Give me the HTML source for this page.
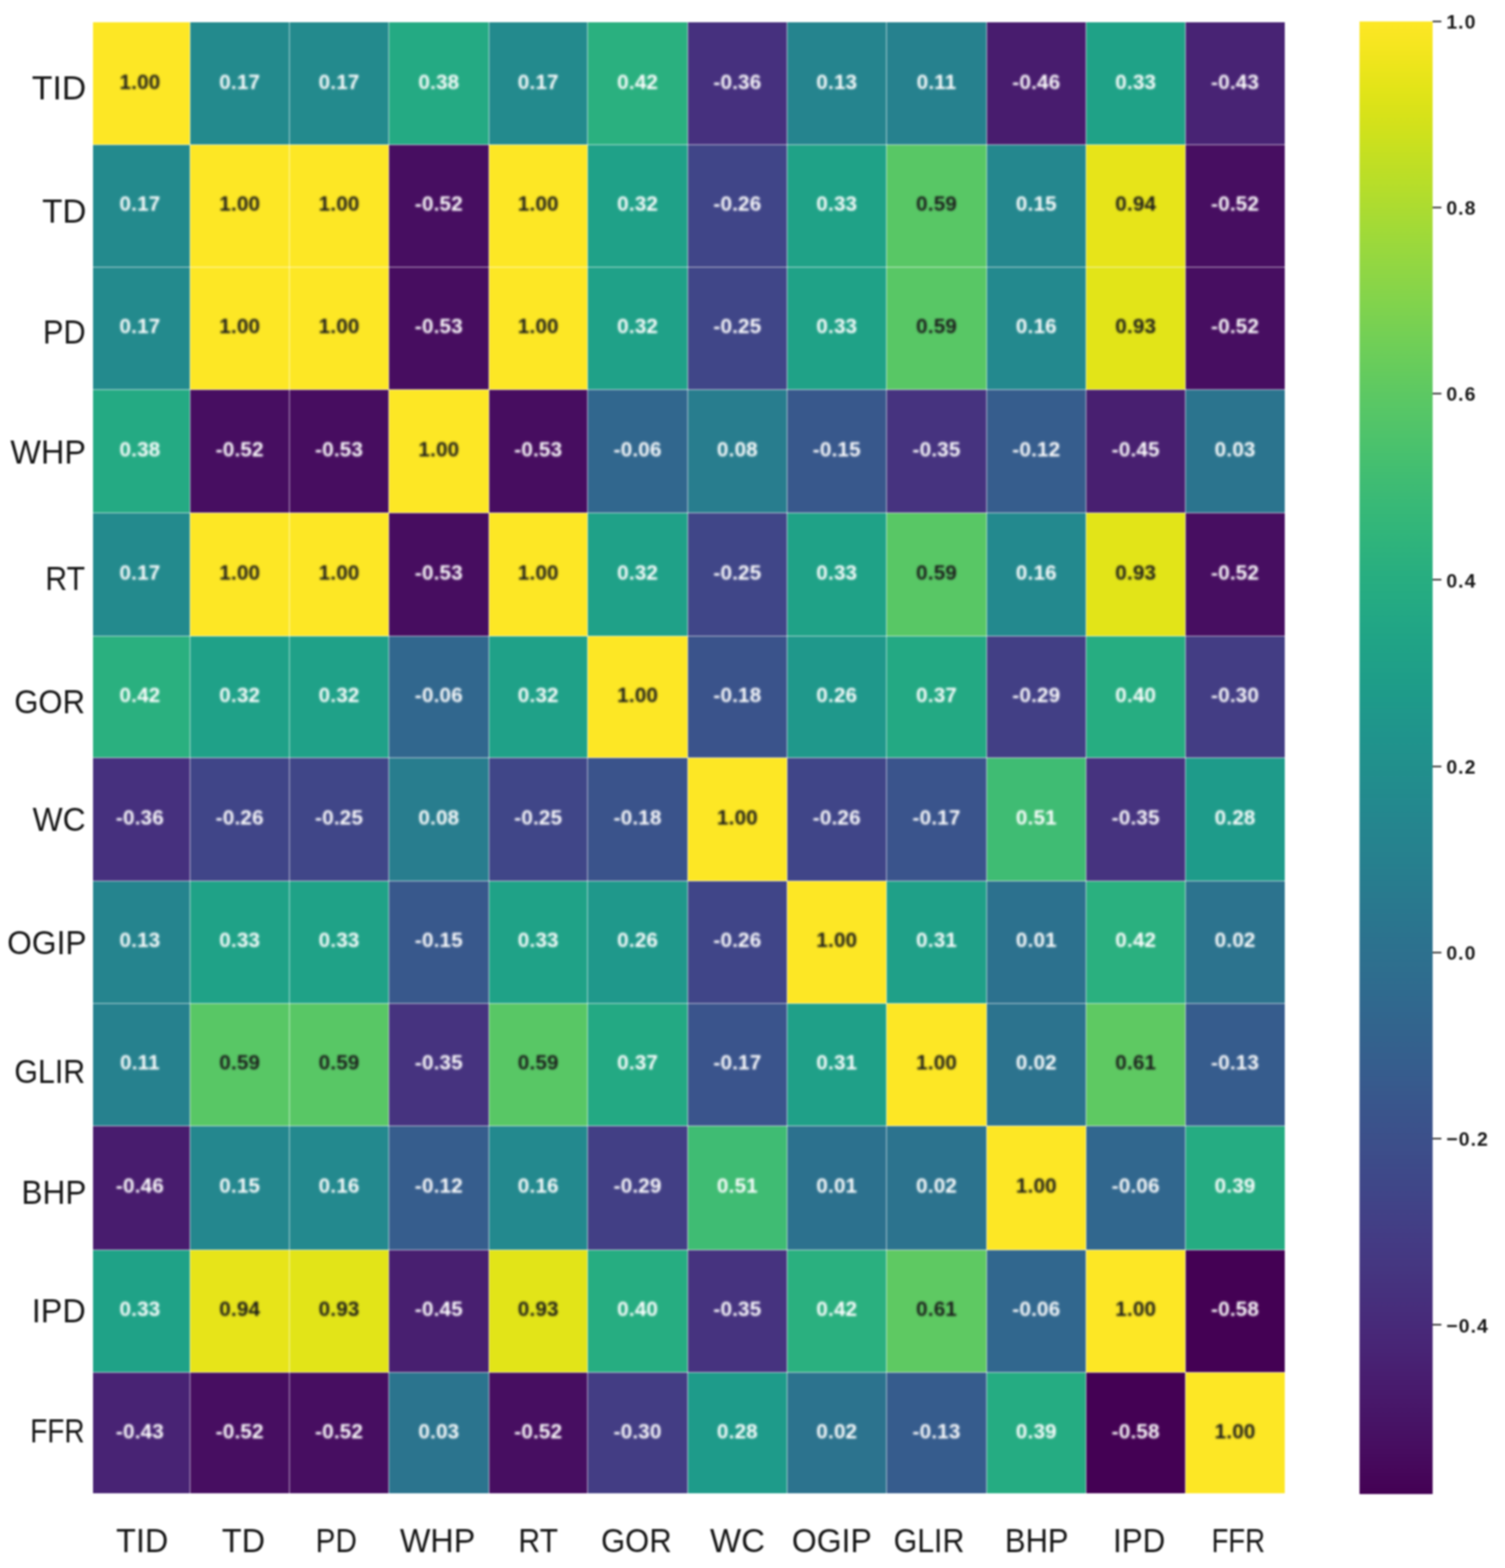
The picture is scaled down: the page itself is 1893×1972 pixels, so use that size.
<!DOCTYPE html>
<html lang="en"><head><meta charset="utf-8"><title>Correlation heatmap</title>
<style>
html,body{margin:0;padding:0;background:#fff;}
body{width:1893px;height:1972px;position:relative;font-family:"Liberation Sans",sans-serif;}
#fig{position:absolute;left:0;top:0;width:1893px;height:1972px;overflow:hidden;filter:blur(1px);}
.c{position:absolute;}
#ann{position:absolute;left:0;top:0;width:1893px;height:1972px;filter:blur(1px);}
.a{position:absolute;text-align:center;font-weight:bold;font-size:26px;line-height:26px;height:26px;letter-spacing:0.2px;white-space:nowrap;}
.d{color:#1a1a1a;} .w{color:#fff;}
.gl{position:absolute;background:rgba(255,255,255,.34);}
.lb{position:absolute;font-size:43.0px;line-height:1;color:#151515;white-space:nowrap;transform-origin:0 0;}
.cb{position:absolute;left:1710px;top:27px;width:92px;height:1851.5px;}
.tk{position:absolute;left:1802px;width:10.5px;height:2px;background:#333;}
.tl{position:absolute;left:1819.2px;font-size:24.5px;line-height:24.5px;height:24.5px;letter-spacing:1.3px;color:#161616;font-weight:bold;white-space:nowrap;}
</style></head>
<body>
<div id="fig">
<div id="heatmap">
<div class="c" style="left:117px;top:28px;width:122px;height:154px;background:rgb(253, 231, 37)"></div>
<div class="c" style="left:239px;top:28px;width:125px;height:154px;background:rgb(35, 138, 141)"></div>
<div class="c" style="left:364px;top:28px;width:125px;height:154px;background:rgb(35, 138, 141)"></div>
<div class="c" style="left:489px;top:28px;width:126px;height:154px;background:rgb(36, 170, 131)"></div>
<div class="c" style="left:615px;top:28px;width:124px;height:154px;background:rgb(35, 138, 141)"></div>
<div class="c" style="left:739px;top:28px;width:126px;height:154px;background:rgb(42, 176, 127)"></div>
<div class="c" style="left:865px;top:28px;width:125px;height:154px;background:rgb(70, 48, 126)"></div>
<div class="c" style="left:990px;top:28px;width:125px;height:154px;background:rgb(37, 132, 142)"></div>
<div class="c" style="left:1115px;top:28px;width:126px;height:154px;background:rgb(38, 129, 142)"></div>
<div class="c" style="left:1241px;top:28px;width:125px;height:154px;background:rgb(72, 28, 110)"></div>
<div class="c" style="left:1366px;top:28px;width:125px;height:154px;background:rgb(31, 162, 135)"></div>
<div class="c" style="left:1491px;top:28px;width:125px;height:154px;background:rgb(72, 35, 116)"></div>
<div class="c" style="left:117px;top:182px;width:122px;height:154px;background:rgb(35, 138, 141)"></div>
<div class="c" style="left:239px;top:182px;width:125px;height:154px;background:rgb(253, 231, 37)"></div>
<div class="c" style="left:364px;top:182px;width:125px;height:154px;background:rgb(253, 231, 37)"></div>
<div class="c" style="left:489px;top:182px;width:126px;height:154px;background:rgb(71, 14, 97)"></div>
<div class="c" style="left:615px;top:182px;width:124px;height:154px;background:rgb(253, 231, 37)"></div>
<div class="c" style="left:739px;top:182px;width:126px;height:154px;background:rgb(31, 161, 136)"></div>
<div class="c" style="left:865px;top:182px;width:125px;height:154px;background:rgb(64, 69, 136)"></div>
<div class="c" style="left:990px;top:182px;width:125px;height:154px;background:rgb(31, 162, 135)"></div>
<div class="c" style="left:1115px;top:182px;width:126px;height:154px;background:rgb(88, 199, 101)"></div>
<div class="c" style="left:1241px;top:182px;width:125px;height:154px;background:rgb(36, 135, 142)"></div>
<div class="c" style="left:1366px;top:182px;width:125px;height:154px;background:rgb(231, 228, 25)"></div>
<div class="c" style="left:1491px;top:182px;width:125px;height:154px;background:rgb(71, 14, 97)"></div>
<div class="c" style="left:117px;top:336px;width:122px;height:154px;background:rgb(35, 138, 141)"></div>
<div class="c" style="left:239px;top:336px;width:125px;height:154px;background:rgb(253, 231, 37)"></div>
<div class="c" style="left:364px;top:336px;width:125px;height:154px;background:rgb(253, 231, 37)"></div>
<div class="c" style="left:489px;top:336px;width:126px;height:154px;background:rgb(71, 13, 96)"></div>
<div class="c" style="left:615px;top:336px;width:124px;height:154px;background:rgb(253, 231, 37)"></div>
<div class="c" style="left:739px;top:336px;width:126px;height:154px;background:rgb(31, 161, 136)"></div>
<div class="c" style="left:865px;top:336px;width:125px;height:154px;background:rgb(64, 70, 136)"></div>
<div class="c" style="left:990px;top:336px;width:125px;height:154px;background:rgb(31, 162, 135)"></div>
<div class="c" style="left:1115px;top:336px;width:126px;height:154px;background:rgb(88, 199, 101)"></div>
<div class="c" style="left:1241px;top:336px;width:125px;height:154px;background:rgb(35, 137, 142)"></div>
<div class="c" style="left:1366px;top:336px;width:125px;height:154px;background:rgb(226, 228, 24)"></div>
<div class="c" style="left:1491px;top:336px;width:125px;height:154px;background:rgb(71, 14, 97)"></div>
<div class="c" style="left:117px;top:490px;width:122px;height:155px;background:rgb(36, 170, 131)"></div>
<div class="c" style="left:239px;top:490px;width:125px;height:155px;background:rgb(71, 14, 97)"></div>
<div class="c" style="left:364px;top:490px;width:125px;height:155px;background:rgb(71, 13, 96)"></div>
<div class="c" style="left:489px;top:490px;width:126px;height:155px;background:rgb(253, 231, 37)"></div>
<div class="c" style="left:615px;top:490px;width:124px;height:155px;background:rgb(71, 13, 96)"></div>
<div class="c" style="left:739px;top:490px;width:126px;height:155px;background:rgb(49, 103, 142)"></div>
<div class="c" style="left:865px;top:490px;width:125px;height:155px;background:rgb(40, 125, 142)"></div>
<div class="c" style="left:990px;top:490px;width:125px;height:155px;background:rgb(56, 88, 140)"></div>
<div class="c" style="left:1115px;top:490px;width:126px;height:155px;background:rgb(70, 51, 127)"></div>
<div class="c" style="left:1241px;top:490px;width:125px;height:155px;background:rgb(54, 93, 141)"></div>
<div class="c" style="left:1366px;top:490px;width:125px;height:155px;background:rgb(72, 31, 112)"></div>
<div class="c" style="left:1491px;top:490px;width:125px;height:155px;background:rgb(43, 116, 142)"></div>
<div class="c" style="left:117px;top:645px;width:122px;height:155px;background:rgb(35, 138, 141)"></div>
<div class="c" style="left:239px;top:645px;width:125px;height:155px;background:rgb(253, 231, 37)"></div>
<div class="c" style="left:364px;top:645px;width:125px;height:155px;background:rgb(253, 231, 37)"></div>
<div class="c" style="left:489px;top:645px;width:126px;height:155px;background:rgb(71, 13, 96)"></div>
<div class="c" style="left:615px;top:645px;width:124px;height:155px;background:rgb(253, 231, 37)"></div>
<div class="c" style="left:739px;top:645px;width:126px;height:155px;background:rgb(31, 161, 136)"></div>
<div class="c" style="left:865px;top:645px;width:125px;height:155px;background:rgb(64, 70, 136)"></div>
<div class="c" style="left:990px;top:645px;width:125px;height:155px;background:rgb(31, 162, 135)"></div>
<div class="c" style="left:1115px;top:645px;width:126px;height:155px;background:rgb(88, 199, 101)"></div>
<div class="c" style="left:1241px;top:645px;width:125px;height:155px;background:rgb(35, 137, 142)"></div>
<div class="c" style="left:1366px;top:645px;width:125px;height:155px;background:rgb(226, 228, 24)"></div>
<div class="c" style="left:1491px;top:645px;width:125px;height:155px;background:rgb(71, 14, 97)"></div>
<div class="c" style="left:117px;top:800px;width:122px;height:153px;background:rgb(42, 176, 127)"></div>
<div class="c" style="left:239px;top:800px;width:125px;height:153px;background:rgb(31, 161, 136)"></div>
<div class="c" style="left:364px;top:800px;width:125px;height:153px;background:rgb(31, 161, 136)"></div>
<div class="c" style="left:489px;top:800px;width:126px;height:153px;background:rgb(49, 103, 142)"></div>
<div class="c" style="left:615px;top:800px;width:124px;height:153px;background:rgb(31, 161, 136)"></div>
<div class="c" style="left:739px;top:800px;width:126px;height:153px;background:rgb(253, 231, 37)"></div>
<div class="c" style="left:865px;top:800px;width:125px;height:153px;background:rgb(58, 83, 139)"></div>
<div class="c" style="left:990px;top:800px;width:125px;height:153px;background:rgb(31, 152, 139)"></div>
<div class="c" style="left:1115px;top:800px;width:126px;height:153px;background:rgb(35, 169, 131)"></div>
<div class="c" style="left:1241px;top:800px;width:125px;height:153px;background:rgb(66, 63, 133)"></div>
<div class="c" style="left:1366px;top:800px;width:125px;height:153px;background:rgb(38, 173, 129)"></div>
<div class="c" style="left:1491px;top:800px;width:125px;height:153px;background:rgb(67, 61, 132)"></div>
<div class="c" style="left:117px;top:953px;width:122px;height:155px;background:rgb(70, 48, 126)"></div>
<div class="c" style="left:239px;top:953px;width:125px;height:155px;background:rgb(64, 69, 136)"></div>
<div class="c" style="left:364px;top:953px;width:125px;height:155px;background:rgb(64, 70, 136)"></div>
<div class="c" style="left:489px;top:953px;width:126px;height:155px;background:rgb(40, 125, 142)"></div>
<div class="c" style="left:615px;top:953px;width:124px;height:155px;background:rgb(64, 70, 136)"></div>
<div class="c" style="left:739px;top:953px;width:126px;height:155px;background:rgb(58, 83, 139)"></div>
<div class="c" style="left:865px;top:953px;width:125px;height:155px;background:rgb(253, 231, 37)"></div>
<div class="c" style="left:990px;top:953px;width:125px;height:155px;background:rgb(64, 69, 136)"></div>
<div class="c" style="left:1115px;top:953px;width:126px;height:155px;background:rgb(58, 84, 140)"></div>
<div class="c" style="left:1241px;top:953px;width:125px;height:155px;background:rgb(63, 188, 115)"></div>
<div class="c" style="left:1366px;top:953px;width:125px;height:155px;background:rgb(70, 51, 127)"></div>
<div class="c" style="left:1491px;top:953px;width:125px;height:155px;background:rgb(30, 155, 138)"></div>
<div class="c" style="left:117px;top:1108px;width:122px;height:154px;background:rgb(37, 132, 142)"></div>
<div class="c" style="left:239px;top:1108px;width:125px;height:154px;background:rgb(31, 162, 135)"></div>
<div class="c" style="left:364px;top:1108px;width:125px;height:154px;background:rgb(31, 162, 135)"></div>
<div class="c" style="left:489px;top:1108px;width:126px;height:154px;background:rgb(56, 88, 140)"></div>
<div class="c" style="left:615px;top:1108px;width:124px;height:154px;background:rgb(31, 162, 135)"></div>
<div class="c" style="left:739px;top:1108px;width:126px;height:154px;background:rgb(31, 152, 139)"></div>
<div class="c" style="left:865px;top:1108px;width:125px;height:154px;background:rgb(64, 69, 136)"></div>
<div class="c" style="left:990px;top:1108px;width:125px;height:154px;background:rgb(253, 231, 37)"></div>
<div class="c" style="left:1115px;top:1108px;width:126px;height:154px;background:rgb(31, 160, 136)"></div>
<div class="c" style="left:1241px;top:1108px;width:125px;height:154px;background:rgb(44, 113, 142)"></div>
<div class="c" style="left:1366px;top:1108px;width:125px;height:154px;background:rgb(42, 176, 127)"></div>
<div class="c" style="left:1491px;top:1108px;width:125px;height:154px;background:rgb(44, 115, 142)"></div>
<div class="c" style="left:117px;top:1262px;width:122px;height:154px;background:rgb(38, 129, 142)"></div>
<div class="c" style="left:239px;top:1262px;width:125px;height:154px;background:rgb(88, 199, 101)"></div>
<div class="c" style="left:364px;top:1262px;width:125px;height:154px;background:rgb(88, 199, 101)"></div>
<div class="c" style="left:489px;top:1262px;width:126px;height:154px;background:rgb(70, 51, 127)"></div>
<div class="c" style="left:615px;top:1262px;width:124px;height:154px;background:rgb(88, 199, 101)"></div>
<div class="c" style="left:739px;top:1262px;width:126px;height:154px;background:rgb(35, 169, 131)"></div>
<div class="c" style="left:865px;top:1262px;width:125px;height:154px;background:rgb(58, 84, 140)"></div>
<div class="c" style="left:990px;top:1262px;width:125px;height:154px;background:rgb(31, 160, 136)"></div>
<div class="c" style="left:1115px;top:1262px;width:126px;height:154px;background:rgb(253, 231, 37)"></div>
<div class="c" style="left:1241px;top:1262px;width:125px;height:154px;background:rgb(44, 115, 142)"></div>
<div class="c" style="left:1366px;top:1262px;width:125px;height:154px;background:rgb(94, 201, 98)"></div>
<div class="c" style="left:1491px;top:1262px;width:125px;height:154px;background:rgb(54, 92, 141)"></div>
<div class="c" style="left:117px;top:1416px;width:122px;height:156px;background:rgb(72, 28, 110)"></div>
<div class="c" style="left:239px;top:1416px;width:125px;height:156px;background:rgb(36, 135, 142)"></div>
<div class="c" style="left:364px;top:1416px;width:125px;height:156px;background:rgb(35, 137, 142)"></div>
<div class="c" style="left:489px;top:1416px;width:126px;height:156px;background:rgb(54, 93, 141)"></div>
<div class="c" style="left:615px;top:1416px;width:124px;height:156px;background:rgb(35, 137, 142)"></div>
<div class="c" style="left:739px;top:1416px;width:126px;height:156px;background:rgb(66, 63, 133)"></div>
<div class="c" style="left:865px;top:1416px;width:125px;height:156px;background:rgb(63, 188, 115)"></div>
<div class="c" style="left:990px;top:1416px;width:125px;height:156px;background:rgb(44, 113, 142)"></div>
<div class="c" style="left:1115px;top:1416px;width:126px;height:156px;background:rgb(44, 115, 142)"></div>
<div class="c" style="left:1241px;top:1416px;width:125px;height:156px;background:rgb(253, 231, 37)"></div>
<div class="c" style="left:1366px;top:1416px;width:125px;height:156px;background:rgb(49, 103, 142)"></div>
<div class="c" style="left:1491px;top:1416px;width:125px;height:156px;background:rgb(37, 172, 130)"></div>
<div class="c" style="left:117px;top:1572px;width:122px;height:154px;background:rgb(31, 162, 135)"></div>
<div class="c" style="left:239px;top:1572px;width:125px;height:154px;background:rgb(231, 228, 25)"></div>
<div class="c" style="left:364px;top:1572px;width:125px;height:154px;background:rgb(226, 228, 24)"></div>
<div class="c" style="left:489px;top:1572px;width:126px;height:154px;background:rgb(72, 31, 112)"></div>
<div class="c" style="left:615px;top:1572px;width:124px;height:154px;background:rgb(226, 228, 24)"></div>
<div class="c" style="left:739px;top:1572px;width:126px;height:154px;background:rgb(38, 173, 129)"></div>
<div class="c" style="left:865px;top:1572px;width:125px;height:154px;background:rgb(70, 51, 127)"></div>
<div class="c" style="left:990px;top:1572px;width:125px;height:154px;background:rgb(42, 176, 127)"></div>
<div class="c" style="left:1115px;top:1572px;width:126px;height:154px;background:rgb(94, 201, 98)"></div>
<div class="c" style="left:1241px;top:1572px;width:125px;height:154px;background:rgb(49, 103, 142)"></div>
<div class="c" style="left:1366px;top:1572px;width:125px;height:154px;background:rgb(253, 231, 37)"></div>
<div class="c" style="left:1491px;top:1572px;width:125px;height:154px;background:rgb(68, 1, 84)"></div>
<div class="c" style="left:117px;top:1726px;width:122px;height:152px;background:rgb(72, 35, 116)"></div>
<div class="c" style="left:239px;top:1726px;width:125px;height:152px;background:rgb(71, 14, 97)"></div>
<div class="c" style="left:364px;top:1726px;width:125px;height:152px;background:rgb(71, 14, 97)"></div>
<div class="c" style="left:489px;top:1726px;width:126px;height:152px;background:rgb(43, 116, 142)"></div>
<div class="c" style="left:615px;top:1726px;width:124px;height:152px;background:rgb(71, 14, 97)"></div>
<div class="c" style="left:739px;top:1726px;width:126px;height:152px;background:rgb(67, 61, 132)"></div>
<div class="c" style="left:865px;top:1726px;width:125px;height:152px;background:rgb(30, 155, 138)"></div>
<div class="c" style="left:990px;top:1726px;width:125px;height:152px;background:rgb(44, 115, 142)"></div>
<div class="c" style="left:1115px;top:1726px;width:126px;height:152px;background:rgb(54, 92, 141)"></div>
<div class="c" style="left:1241px;top:1726px;width:125px;height:152px;background:rgb(37, 172, 130)"></div>
<div class="c" style="left:1366px;top:1726px;width:125px;height:152px;background:rgb(68, 1, 84)"></div>
<div class="c" style="left:1491px;top:1726px;width:125px;height:152px;background:rgb(253, 231, 37)"></div>
</div>
<div id="grid">
<div class="gl" style="left:238px;top:28px;width:2px;height:1850px"></div>
<div class="gl" style="left:363px;top:28px;width:2px;height:1850px"></div>
<div class="gl" style="left:488px;top:28px;width:2px;height:1850px"></div>
<div class="gl" style="left:614px;top:28px;width:2px;height:1850px"></div>
<div class="gl" style="left:738px;top:28px;width:2px;height:1850px"></div>
<div class="gl" style="left:864px;top:28px;width:2px;height:1850px"></div>
<div class="gl" style="left:989px;top:28px;width:2px;height:1850px"></div>
<div class="gl" style="left:1114px;top:28px;width:2px;height:1850px"></div>
<div class="gl" style="left:1240px;top:28px;width:2px;height:1850px"></div>
<div class="gl" style="left:1365px;top:28px;width:2px;height:1850px"></div>
<div class="gl" style="left:1490px;top:28px;width:2px;height:1850px"></div>
<div class="gl" style="left:117px;top:181px;width:1499px;height:2px"></div>
<div class="gl" style="left:117px;top:335px;width:1499px;height:2px"></div>
<div class="gl" style="left:117px;top:489px;width:1499px;height:2px"></div>
<div class="gl" style="left:117px;top:644px;width:1499px;height:2px"></div>
<div class="gl" style="left:117px;top:799px;width:1499px;height:2px"></div>
<div class="gl" style="left:117px;top:952px;width:1499px;height:2px"></div>
<div class="gl" style="left:117px;top:1107px;width:1499px;height:2px"></div>
<div class="gl" style="left:117px;top:1261px;width:1499px;height:2px"></div>
<div class="gl" style="left:117px;top:1415px;width:1499px;height:2px"></div>
<div class="gl" style="left:117px;top:1571px;width:1499px;height:2px"></div>
<div class="gl" style="left:117px;top:1725px;width:1499px;height:2px"></div>
</div>
<div id="ann">
<div class="a d" style="left:113px;width:126px;top:89.50px">1.00</div>
<div class="a w" style="left:239px;width:125px;top:89.50px">0.17</div>
<div class="a w" style="left:364px;width:125px;top:89.50px">0.17</div>
<div class="a w" style="left:489px;width:126px;top:89.50px">0.38</div>
<div class="a w" style="left:615px;width:124px;top:89.50px">0.17</div>
<div class="a w" style="left:739px;width:126px;top:89.50px">0.42</div>
<div class="a w" style="left:865px;width:125px;top:89.50px">-0.36</div>
<div class="a w" style="left:990px;width:125px;top:89.50px">0.13</div>
<div class="a w" style="left:1115px;width:126px;top:89.50px">0.11</div>
<div class="a w" style="left:1241px;width:125px;top:89.50px">-0.46</div>
<div class="a w" style="left:1366px;width:125px;top:89.50px">0.33</div>
<div class="a w" style="left:1491px;width:125px;top:89.50px">-0.43</div>
<div class="a w" style="left:113px;width:126px;top:243.45px">0.17</div>
<div class="a d" style="left:239px;width:125px;top:243.45px">1.00</div>
<div class="a d" style="left:364px;width:125px;top:243.45px">1.00</div>
<div class="a w" style="left:489px;width:126px;top:243.45px">-0.52</div>
<div class="a d" style="left:615px;width:124px;top:243.45px">1.00</div>
<div class="a w" style="left:739px;width:126px;top:243.45px">0.32</div>
<div class="a w" style="left:865px;width:125px;top:243.45px">-0.26</div>
<div class="a w" style="left:990px;width:125px;top:243.45px">0.33</div>
<div class="a d" style="left:1115px;width:126px;top:243.45px">0.59</div>
<div class="a w" style="left:1241px;width:125px;top:243.45px">0.15</div>
<div class="a d" style="left:1366px;width:125px;top:243.45px">0.94</div>
<div class="a w" style="left:1491px;width:125px;top:243.45px">-0.52</div>
<div class="a w" style="left:113px;width:126px;top:397.40px">0.17</div>
<div class="a d" style="left:239px;width:125px;top:397.40px">1.00</div>
<div class="a d" style="left:364px;width:125px;top:397.40px">1.00</div>
<div class="a w" style="left:489px;width:126px;top:397.40px">-0.53</div>
<div class="a d" style="left:615px;width:124px;top:397.40px">1.00</div>
<div class="a w" style="left:739px;width:126px;top:397.40px">0.32</div>
<div class="a w" style="left:865px;width:125px;top:397.40px">-0.25</div>
<div class="a w" style="left:990px;width:125px;top:397.40px">0.33</div>
<div class="a d" style="left:1115px;width:126px;top:397.40px">0.59</div>
<div class="a w" style="left:1241px;width:125px;top:397.40px">0.16</div>
<div class="a d" style="left:1366px;width:125px;top:397.40px">0.93</div>
<div class="a w" style="left:1491px;width:125px;top:397.40px">-0.52</div>
<div class="a w" style="left:113px;width:126px;top:552.30px">0.38</div>
<div class="a w" style="left:239px;width:125px;top:552.30px">-0.52</div>
<div class="a w" style="left:364px;width:125px;top:552.30px">-0.53</div>
<div class="a d" style="left:489px;width:126px;top:552.30px">1.00</div>
<div class="a w" style="left:615px;width:124px;top:552.30px">-0.53</div>
<div class="a w" style="left:739px;width:126px;top:552.30px">-0.06</div>
<div class="a w" style="left:865px;width:125px;top:552.30px">0.08</div>
<div class="a w" style="left:990px;width:125px;top:552.30px">-0.15</div>
<div class="a w" style="left:1115px;width:126px;top:552.30px">-0.35</div>
<div class="a w" style="left:1241px;width:125px;top:552.30px">-0.12</div>
<div class="a w" style="left:1366px;width:125px;top:552.30px">-0.45</div>
<div class="a w" style="left:1491px;width:125px;top:552.30px">0.03</div>
<div class="a w" style="left:113px;width:126px;top:706.90px">0.17</div>
<div class="a d" style="left:239px;width:125px;top:706.90px">1.00</div>
<div class="a d" style="left:364px;width:125px;top:706.90px">1.00</div>
<div class="a w" style="left:489px;width:126px;top:706.90px">-0.53</div>
<div class="a d" style="left:615px;width:124px;top:706.90px">1.00</div>
<div class="a w" style="left:739px;width:126px;top:706.90px">0.32</div>
<div class="a w" style="left:865px;width:125px;top:706.90px">-0.25</div>
<div class="a w" style="left:990px;width:125px;top:706.90px">0.33</div>
<div class="a d" style="left:1115px;width:126px;top:706.90px">0.59</div>
<div class="a w" style="left:1241px;width:125px;top:706.90px">0.16</div>
<div class="a d" style="left:1366px;width:125px;top:706.90px">0.93</div>
<div class="a w" style="left:1491px;width:125px;top:706.90px">-0.52</div>
<div class="a w" style="left:113px;width:126px;top:860.80px">0.42</div>
<div class="a w" style="left:239px;width:125px;top:860.80px">0.32</div>
<div class="a w" style="left:364px;width:125px;top:860.80px">0.32</div>
<div class="a w" style="left:489px;width:126px;top:860.80px">-0.06</div>
<div class="a w" style="left:615px;width:124px;top:860.80px">0.32</div>
<div class="a d" style="left:739px;width:126px;top:860.80px">1.00</div>
<div class="a w" style="left:865px;width:125px;top:860.80px">-0.18</div>
<div class="a w" style="left:990px;width:125px;top:860.80px">0.26</div>
<div class="a w" style="left:1115px;width:126px;top:860.80px">0.37</div>
<div class="a w" style="left:1241px;width:125px;top:860.80px">-0.29</div>
<div class="a w" style="left:1366px;width:125px;top:860.80px">0.40</div>
<div class="a w" style="left:1491px;width:125px;top:860.80px">-0.30</div>
<div class="a w" style="left:113px;width:126px;top:1014.95px">-0.36</div>
<div class="a w" style="left:239px;width:125px;top:1014.95px">-0.26</div>
<div class="a w" style="left:364px;width:125px;top:1014.95px">-0.25</div>
<div class="a w" style="left:489px;width:126px;top:1014.95px">0.08</div>
<div class="a w" style="left:615px;width:124px;top:1014.95px">-0.25</div>
<div class="a w" style="left:739px;width:126px;top:1014.95px">-0.18</div>
<div class="a d" style="left:865px;width:125px;top:1014.95px">1.00</div>
<div class="a w" style="left:990px;width:125px;top:1014.95px">-0.26</div>
<div class="a w" style="left:1115px;width:126px;top:1014.95px">-0.17</div>
<div class="a w" style="left:1241px;width:125px;top:1014.95px">0.51</div>
<div class="a w" style="left:1366px;width:125px;top:1014.95px">-0.35</div>
<div class="a w" style="left:1491px;width:125px;top:1014.95px">0.28</div>
<div class="a w" style="left:113px;width:126px;top:1169.40px">0.13</div>
<div class="a w" style="left:239px;width:125px;top:1169.40px">0.33</div>
<div class="a w" style="left:364px;width:125px;top:1169.40px">0.33</div>
<div class="a w" style="left:489px;width:126px;top:1169.40px">-0.15</div>
<div class="a w" style="left:615px;width:124px;top:1169.40px">0.33</div>
<div class="a w" style="left:739px;width:126px;top:1169.40px">0.26</div>
<div class="a w" style="left:865px;width:125px;top:1169.40px">-0.26</div>
<div class="a d" style="left:990px;width:125px;top:1169.40px">1.00</div>
<div class="a w" style="left:1115px;width:126px;top:1169.40px">0.31</div>
<div class="a w" style="left:1241px;width:125px;top:1169.40px">0.01</div>
<div class="a w" style="left:1366px;width:125px;top:1169.40px">0.42</div>
<div class="a w" style="left:1491px;width:125px;top:1169.40px">0.02</div>
<div class="a w" style="left:113px;width:126px;top:1323.45px">0.11</div>
<div class="a d" style="left:239px;width:125px;top:1323.45px">0.59</div>
<div class="a d" style="left:364px;width:125px;top:1323.45px">0.59</div>
<div class="a w" style="left:489px;width:126px;top:1323.45px">-0.35</div>
<div class="a d" style="left:615px;width:124px;top:1323.45px">0.59</div>
<div class="a w" style="left:739px;width:126px;top:1323.45px">0.37</div>
<div class="a w" style="left:865px;width:125px;top:1323.45px">-0.17</div>
<div class="a w" style="left:990px;width:125px;top:1323.45px">0.31</div>
<div class="a d" style="left:1115px;width:126px;top:1323.45px">1.00</div>
<div class="a w" style="left:1241px;width:125px;top:1323.45px">0.02</div>
<div class="a d" style="left:1366px;width:125px;top:1323.45px">0.61</div>
<div class="a w" style="left:1491px;width:125px;top:1323.45px">-0.13</div>
<div class="a w" style="left:113px;width:126px;top:1478.15px">-0.46</div>
<div class="a w" style="left:239px;width:125px;top:1478.15px">0.15</div>
<div class="a w" style="left:364px;width:125px;top:1478.15px">0.16</div>
<div class="a w" style="left:489px;width:126px;top:1478.15px">-0.12</div>
<div class="a w" style="left:615px;width:124px;top:1478.15px">0.16</div>
<div class="a w" style="left:739px;width:126px;top:1478.15px">-0.29</div>
<div class="a w" style="left:865px;width:125px;top:1478.15px">0.51</div>
<div class="a w" style="left:990px;width:125px;top:1478.15px">0.01</div>
<div class="a w" style="left:1115px;width:126px;top:1478.15px">0.02</div>
<div class="a d" style="left:1241px;width:125px;top:1478.15px">1.00</div>
<div class="a w" style="left:1366px;width:125px;top:1478.15px">-0.06</div>
<div class="a w" style="left:1491px;width:125px;top:1478.15px">0.39</div>
<div class="a w" style="left:113px;width:126px;top:1633.10px">0.33</div>
<div class="a d" style="left:239px;width:125px;top:1633.10px">0.94</div>
<div class="a d" style="left:364px;width:125px;top:1633.10px">0.93</div>
<div class="a w" style="left:489px;width:126px;top:1633.10px">-0.45</div>
<div class="a d" style="left:615px;width:124px;top:1633.10px">0.93</div>
<div class="a w" style="left:739px;width:126px;top:1633.10px">0.40</div>
<div class="a w" style="left:865px;width:125px;top:1633.10px">-0.35</div>
<div class="a w" style="left:990px;width:125px;top:1633.10px">0.42</div>
<div class="a d" style="left:1115px;width:126px;top:1633.10px">0.61</div>
<div class="a w" style="left:1241px;width:125px;top:1633.10px">-0.06</div>
<div class="a d" style="left:1366px;width:125px;top:1633.10px">1.00</div>
<div class="a w" style="left:1491px;width:125px;top:1633.10px">-0.58</div>
<div class="a w" style="left:113px;width:126px;top:1786.55px">-0.43</div>
<div class="a w" style="left:239px;width:125px;top:1786.55px">-0.52</div>
<div class="a w" style="left:364px;width:125px;top:1786.55px">-0.52</div>
<div class="a w" style="left:489px;width:126px;top:1786.55px">0.03</div>
<div class="a w" style="left:615px;width:124px;top:1786.55px">-0.52</div>
<div class="a w" style="left:739px;width:126px;top:1786.55px">-0.30</div>
<div class="a w" style="left:865px;width:125px;top:1786.55px">0.28</div>
<div class="a w" style="left:990px;width:125px;top:1786.55px">0.02</div>
<div class="a w" style="left:1115px;width:126px;top:1786.55px">-0.13</div>
<div class="a w" style="left:1241px;width:125px;top:1786.55px">0.39</div>
<div class="a w" style="left:1366px;width:125px;top:1786.55px">-0.58</div>
<div class="a d" style="left:1491px;width:125px;top:1786.55px">1.00</div>
</div>
<div id="ylabels">
<div class="lb" style="left:40.21px;top:89.40px;transform:scaleX(0.9879)">TID</div>
<div class="lb" style="left:52.63px;top:244.10px;transform:scaleX(0.9722)">TD</div>
<div class="lb" style="left:53.79px;top:395.70px;transform:scaleX(0.9019)">PD</div>
<div class="lb" style="left:12.80px;top:547.30px;transform:scaleX(0.9480)">WHP</div>
<div class="lb" style="left:56.56px;top:705.70px;transform:scaleX(0.8846)">RT</div>
<div class="lb" style="left:17.89px;top:860.50px;transform:scaleX(0.9074)">GOR</div>
<div class="lb" style="left:40.80px;top:1009.40px;transform:scaleX(0.9329)">WC</div>
<div class="lb" style="left:8.54px;top:1164.20px;transform:scaleX(0.9291)">OGIP</div>
<div class="lb" style="left:17.62px;top:1325.80px;transform:scaleX(0.8885)">GLIR</div>
<div class="lb" style="left:26.71px;top:1478.05px;transform:scaleX(0.9232)">BHP</div>
<div class="lb" style="left:39.81px;top:1626.90px;transform:scaleX(0.9470)">IPD</div>
<div class="lb" style="left:38.23px;top:1778.30px;transform:scaleX(0.8169)">FFR</div>
</div>
<div id="xlabels">
<div class="lb" style="left:145.75px;top:1916.10px;transform:scaleX(0.9485)">TID</div>
<div class="lb" style="left:278.65px;top:1916.10px;transform:scaleX(0.9481)">TD</div>
<div class="lb" style="left:397.33px;top:1916.10px;transform:scaleX(0.8685)">PD</div>
<div class="lb" style="left:502.90px;top:1916.10px;transform:scaleX(0.9449)">WHP</div>
<div class="lb" style="left:651.98px;top:1916.10px;transform:scaleX(0.8808)">RT</div>
<div class="lb" style="left:755.99px;top:1916.10px;transform:scaleX(0.9064)">GOR</div>
<div class="lb" style="left:893.40px;top:1916.10px;transform:scaleX(0.9657)">WC</div>
<div class="lb" style="left:995.73px;top:1916.10px;transform:scaleX(0.9359)">OGIP</div>
<div class="lb" style="left:1123.73px;top:1916.10px;transform:scaleX(0.8865)">GLIR</div>
<div class="lb" style="left:1264.28px;top:1916.10px;transform:scaleX(0.9061)">BHP</div>
<div class="lb" style="left:1400.33px;top:1916.10px;transform:scaleX(0.9167)">IPD</div>
<div class="lb" style="left:1524.39px;top:1916.10px;transform:scaleX(0.8026)">FFR</div>
</div>
<div class="cb" style="background:linear-gradient(to bottom,rgb(253,231,37) 0.00%,rgb(246,230,32) 1.56%,rgb(236,229,27) 3.12%,rgb(226,228,24) 4.69%,rgb(216,226,25) 6.25%,rgb(205,225,29) 7.81%,rgb(194,223,35) 9.38%,rgb(184,222,41) 10.94%,rgb(173,220,48) 12.50%,rgb(162,218,55) 14.06%,rgb(152,216,62) 15.62%,rgb(142,214,69) 17.19%,rgb(132,212,75) 18.75%,rgb(122,209,81) 20.31%,rgb(112,207,87) 21.88%,rgb(103,204,92) 23.44%,rgb(94,201,98) 25.00%,rgb(86,198,103) 26.56%,rgb(78,195,107) 28.12%,rgb(70,192,111) 29.69%,rgb(63,188,115) 31.25%,rgb(56,185,119) 32.81%,rgb(50,182,122) 34.38%,rgb(45,178,125) 35.94%,rgb(40,174,128) 37.50%,rgb(37,171,130) 39.06%,rgb(34,167,133) 40.62%,rgb(32,163,134) 42.19%,rgb(31,160,136) 43.75%,rgb(30,156,137) 45.31%,rgb(31,152,139) 46.88%,rgb(31,148,140) 48.44%,rgb(33,145,140) 50.00%,rgb(34,141,141) 51.56%,rgb(35,137,142) 53.12%,rgb(37,133,142) 54.69%,rgb(38,130,142) 56.25%,rgb(39,126,142) 57.81%,rgb(41,122,142) 59.38%,rgb(42,118,142) 60.94%,rgb(44,114,142) 62.50%,rgb(46,111,142) 64.06%,rgb(47,107,142) 65.62%,rgb(49,103,142) 67.19%,rgb(51,99,141) 68.75%,rgb(53,95,141) 70.31%,rgb(55,91,141) 71.88%,rgb(57,86,140) 73.44%,rgb(59,82,139) 75.00%,rgb(61,78,138) 76.56%,rgb(62,73,137) 78.12%,rgb(64,69,136) 79.69%,rgb(66,64,134) 81.25%,rgb(68,59,132) 82.81%,rgb(69,55,129) 84.38%,rgb(70,50,126) 85.94%,rgb(71,45,123) 87.50%,rgb(72,40,120) 89.06%,rgb(72,35,116) 90.62%,rgb(72,29,111) 92.19%,rgb(72,24,106) 93.75%,rgb(71,19,101) 95.31%,rgb(71,13,96) 96.88%,rgb(70,7,90) 98.44%,rgb(68,1,84) 100.00%)"></div>
<div id="ticks">
<div class="tk" style="top:25.5px"></div><div class="tl" style="top:15.8px">1.0</div>
<div class="tk" style="top:259.8px"></div><div class="tl" style="top:250.0px">0.8</div>
<div class="tk" style="top:494.0px"></div><div class="tl" style="top:484.3px">0.6</div>
<div class="tk" style="top:728.3px"></div><div class="tl" style="top:718.5px">0.4</div>
<div class="tk" style="top:962.5px"></div><div class="tl" style="top:952.8px">0.2</div>
<div class="tk" style="top:1196.8px"></div><div class="tl" style="top:1187.0px">0.0</div>
<div class="tk" style="top:1431.0px"></div><div class="tl" style="top:1421.3px">−0.2</div>
<div class="tk" style="top:1665.3px"></div><div class="tl" style="top:1655.5px">−0.4</div>
</div>
</div>
</body></html>
